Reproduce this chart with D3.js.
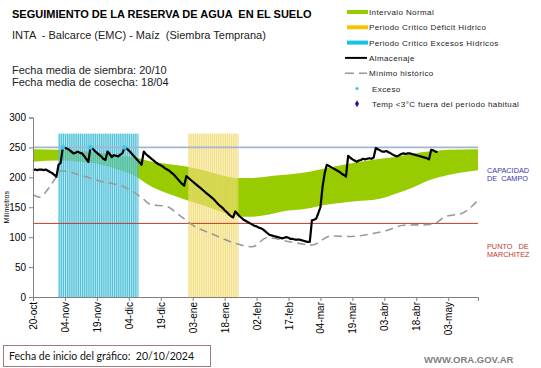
<!DOCTYPE html>
<html><head><meta charset="utf-8">
<script src="https://cdn.jsdelivr.net/npm/d3@7"></script>
<style>
body{margin:0;background:#fff;}
svg text{font-family:"Liberation Sans",Arial,sans-serif;white-space:pre;}
</style></head>
<body><svg id="c" width="541" height="368"></svg>
<script>
// ---------- DATA ----------
const startDate = "2024-10-20";
const endDate = "2025-05-17";
const tickLabels = ["20-oct","04-nov","19-nov","04-dic","19-dic","03-ene","18-ene","02-feb","17-feb","04-mar","19-mar","03-abr","18-abr","03-may"];
const yTicks = [0,50,100,150,200,250,300];
const capacidadCampo = 250;
const puntoMarchitez = 123;
const periodTop = 273;
const excesoPeriod = ["2024-11-01","2024-12-08"];
const deficitPeriod = ["2025-01-01","2025-01-24"];
// Almacenaje: daily values from 20/10/2024
const almacenaje = [212,213,212,213,213,212,213,211,209,207,204,201,221,224,250,249,248,246,243,240,
241,243,241,240,236,231,226,250,248,244,241,238,235,231,229,243,239,234,237,236,
235,238,240,250,248,245,241,237,233,229,225,221,243,239,236,233,230,227,224,222,
220,218,215,213,211,208,205,201,197,193,189,186,202,199,196,193,190,187,184,181,
178,175,172,169,166,163,159,155,152,149,145,142,138,135,133,143,139,135,132,129,
127,125,123,121,119,118,116,115,113,110,107,104,103,102,101,100,99,98,99,100,
99,97,97,96,96,96,95,94,93,92,92,128,129,131,140,150,184,207,221,219,
217,215,213,211,209,206,204,201,236,233,230,228,226,228,229,231,230,231,232,231,
233,249,247,245,243,243,244,242,240,238,236,235,237,239,240,239,240,240,239,238,
237,236,235,234,233,232,230,246,245,243,242];
// Exceso days (offset from start)
const excesoDays = [14,27,43];
// Intervalo normal (day offset, upper, lower)
const normalDays  = [0,12,22,31,41,47,56,64,72,81,88,96,102,111,117,129,133,149,163,170,179,186,195,209];
const normalUpper = [247,246,244,241,236,234,226,222,218,211,204,199,199,202,204,209,212,223,231,234,240,243,246,247];
const normalLower = [226,228,226,222,212,204,184,172,162,152,143,135,134,138,143,148,151,159,164,172,184,195,204,212];
// Mínimo histórico (day offset, value)
const minDays = [0,3,8,11,13,20,25,31,38,42,47,52,55,63,69,75,85,94,103,110,121,131,140,148,158,166,174,185,188,194,201,209];
const minVals = [171,167,185,201,211,206,201,194,189,185,176,163,155,151,136,120,104,91,84,99,92,87,102,101,105,111,120,121,122,135,139,162];
const legendItems = ["Intervalo Normal","Periodo Crítico Déficit Hídrico","Periodo Crítico Excesos Hídricos","Almacenaje","Mínimo histórico","Exceso","Temp <3°C fuera del período habitual"];

// ---------- CHART ----------
const svg = d3.select("#c");
const parse = d3.utcParse("%Y-%m-%d");
const t0 = parse(startDate);
const day = n => d3.utcDay.offset(t0, n);
const x = d3.scaleUtc().domain([t0, parse(endDate)]).range([33, 478]);
const y = d3.scaleLinear().domain([0,300]).range([297, 117.5]);

// title & texts
svg.append("text").attr("x",12).attr("y",18).attr("font-size",11).attr("font-weight","bold")
  .text("SEGUIMIENTO DE LA RESERVA DE AGUA  EN EL SUELO");
svg.append("text").attr("x",12).attr("y",39).attr("font-size",11).attr("fill","#222")
  .text("INTA  - Balcarce (EMC) - Maíz  (Siembra Temprana)");
svg.append("text").attr("x",12).attr("y",74).attr("font-size",11).attr("fill","#222").text("Fecha media de siembra: 20/10");
svg.append("text").attr("x",12).attr("y",86).attr("font-size",11).attr("fill","#222").text("Fecha media de cosecha: 18/04");

// normal band
const area = d3.area().x((d,i)=>x(day(normalDays[i]))).y0((d,i)=>y(normalLower[i])).y1((d,i)=>y(normalUpper[i])).curve(d3.curveMonotoneX);
svg.append("path").datum(normalDays).attr("d",area).attr("fill","#99cc00");

// critical periods (striped)
function period(p, bg, bgOp, stripe, stOp){
  const a = parse(p[0]), b = parse(p[1]);
  svg.append("rect").attr("x",x(a)).attr("width",x(b)-x(a)).attr("y",y(periodTop)).attr("height",y(0)-y(periodTop))
    .attr("fill",bg).attr("opacity",bgOp);
  const days = d3.utcDay.range(a, d3.utcDay.offset(b,1));
  svg.append("g").selectAll("rect").data(days).join("rect")
    .attr("x",d=>x(d)).attr("width",1.2).attr("y",y(periodTop)).attr("height",y(0)-y(periodTop))
    .attr("fill",stripe).attr("opacity",stOp);
}
period(excesoPeriod,"#8fd8e8",0.6,"#2fb6d2",0.75);
period(deficitPeriod,"#f7ea9a",0.5,"#eed25a",0.65);

// reference lines
svg.append("line").attr("x1",x.range()[0]).attr("x2",x.range()[1]).attr("y1",y(capacidadCampo)).attr("y2",y(capacidadCampo))
  .attr("stroke","#a2b6d4").attr("stroke-width",1.6);
svg.append("line").attr("x1",x.range()[0]).attr("x2",x.range()[1]).attr("y1",y(puntoMarchitez)).attr("y2",y(puntoMarchitez))
  .attr("stroke","#c0392b").attr("stroke-width",1);

// minimo historico
const minLine = d3.line().x((d,i)=>x(day(minDays[i]))).y((d,i)=>y(minVals[i])).curve(d3.curveMonotoneX);
svg.append("path").datum(minDays).attr("d",minLine).attr("fill","none").attr("stroke","#9a9a9a")
  .attr("stroke-width",1.6).attr("stroke-dasharray","8,5");

// almacenaje
const line = d3.line().x((d,i)=>x(day(i))).y(d=>y(d));
svg.append("path").datum(almacenaje).attr("d",line).attr("fill","none").attr("stroke","#000").attr("stroke-width",2.2)
  .attr("stroke-linejoin","round");

// exceso points
svg.append("g").selectAll("circle").data(excesoDays).join("circle")
  .attr("cx",d=>x(day(d))).attr("cy",d=>y(almacenaje[d])).attr("r",2.3).attr("fill","#3cc8e8");

// axes
const yAxis = svg.append("g").attr("transform",`translate(${x.range()[0]},0)`)
  .call(d3.axisLeft(y).tickValues(yTicks).tickSize(4).tickPadding(3));
yAxis.selectAll("text").attr("font-size",10).attr("fill","#000").style("font-family","Liberation Sans, Arial");
yAxis.selectAll("line,path").attr("stroke","#808080");

const tickDates = tickLabels.map((l,i)=>day(i*15));
const xAxis = svg.append("g").attr("transform",`translate(0,${y(0)})`)
  .call(d3.axisBottom(x).tickValues(tickDates).tickSize(4).tickFormat((d,i)=>tickLabels[i]));
xAxis.selectAll("text").attr("font-size",10).attr("fill","#000").style("font-family","Liberation Sans, Arial")
  .attr("transform","rotate(-90)").attr("x",-5).attr("y",0).attr("dy","0.35em").style("text-anchor","end");
xAxis.selectAll("line,path").attr("stroke","#808080");

svg.append("text").attr("transform",`translate(9,${(y(0)+y(300))/2}) rotate(-90)`).attr("text-anchor","middle")
  .attr("font-size",7).text("Milímetros");

// side labels
const side = svg.append("g").attr("font-size",7.3);
side.append("text").attr("x",487).attr("y",173).attr("fill","#3a3aa0").text("CAPACIDAD");
side.append("text").attr("x",487).attr("y",181).attr("fill","#3a3aa0").text("DE  CAMPO");
side.append("text").attr("x",487).attr("y",249).attr("fill","#c0392b").text("PUNTO   DE");
side.append("text").attr("x",487).attr("y",257).attr("fill","#c0392b").text("MARCHITEZ");

// legend
const lg = svg.append("g").attr("font-size",8).attr("fill","#222");
legendItems.forEach((t,i)=>{
  const yy = 12 + i*15.3;
  const sx0 = 347, sx1 = 368;
  if(i===0) lg.append("line").attr("x1",sx0).attr("x2",sx1).attr("y1",yy).attr("y2",yy).attr("stroke","#99cc00").attr("stroke-width",4);
  if(i===1) lg.append("line").attr("x1",sx0).attr("x2",sx1).attr("y1",yy).attr("y2",yy).attr("stroke","#f5c400").attr("stroke-width",4);
  if(i===2) lg.append("line").attr("x1",sx0).attr("x2",sx1).attr("y1",yy).attr("y2",yy).attr("stroke","#19c0ec").attr("stroke-width",4);
  if(i===3) lg.append("line").attr("x1",345).attr("x2",367).attr("y1",yy).attr("y2",yy).attr("stroke","#000").attr("stroke-width",2);
  if(i===4) lg.append("line").attr("x1",345).attr("x2",367).attr("y1",yy).attr("y2",yy).attr("stroke","#9a9a9a").attr("stroke-width",1.6).attr("stroke-dasharray","9,5");
  if(i===5) lg.append("circle").attr("cx",357).attr("cy",yy).attr("r",1.6).attr("fill","#3cc8e8");
  if(i===6) lg.append("path").attr("d",d3.symbol(d3.symbolDiamond,14)()).attr("transform",`translate(357,${yy})`).attr("fill","#1a1a9a");
  lg.append("text").attr("x", i>=5 ? 372 : 369).attr("y",yy+3).attr("letter-spacing",0.4).text(t);
});

// footer
svg.append("rect").attr("x",3.5).attr("y",345.5).attr("width",207).attr("height",21).attr("fill","#fff").attr("stroke","#9c7c7c");
svg.append("text").attr("x",9).attr("y",360).attr("font-size",10.5).style("font-family","Lato, 'Open Sans', sans-serif")
  .attr("fill","#111").text("Fecha de inicio del gráfico:  20/10/2024");
svg.append("text").attr("x",424).attr("y",363).attr("font-size",9.5).attr("font-weight","bold").attr("fill","#7f7f7f").text("WWW.ORA.GOV.AR");
</script></body></html>
